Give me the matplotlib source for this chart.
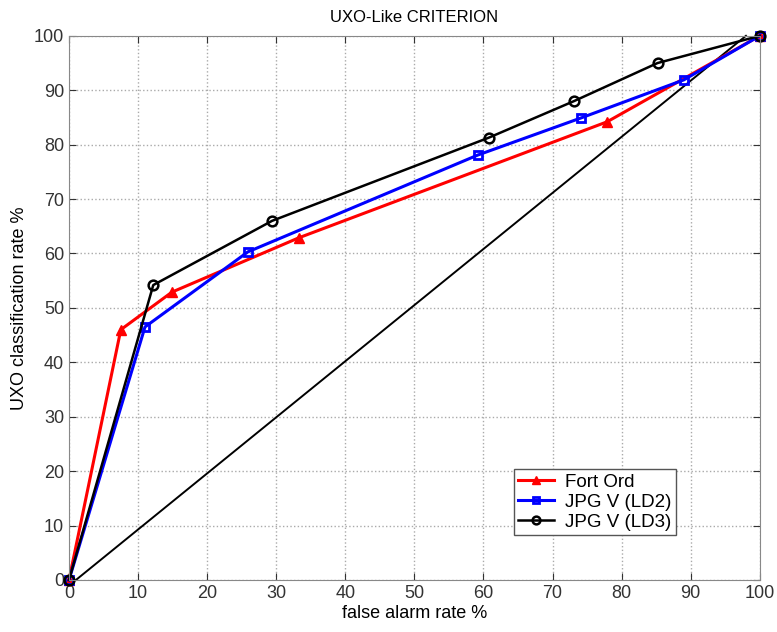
import matplotlib
matplotlib.use('Agg')
import matplotlib.pyplot as plt

plt.rcParams['font.family'] = ['Liberation Sans', 'DejaVu Sans']

# data
fort_x = [0, 7.5, 14.9, 33.3, 77.9, 100]
fort_y = [0, 46.0, 52.9, 62.9, 84.2, 100]
ld2_x = [0, 11.0, 25.9, 59.2, 74.1, 89.0, 100]
ld2_y = [0, 46.5, 60.3, 78.1, 84.9, 91.9, 100]
ld3_x = [0, 12.2, 29.4, 60.8, 73.1, 85.2, 100]
ld3_y = [0, 54.2, 66.0, 81.3, 88.0, 95.0, 100]
diag_x = [1, 98]
diag_y = [0, 100]

fig = plt.figure(figsize=(7.77, 6.32), dpi=100)
ax = fig.add_axes([0.0888, 0.0823, 0.889, 0.861])

ax.plot(diag_x, diag_y, color='black', lw=1.4, clip_on=False)
ax.plot(fort_x, fort_y, color='#ff0000', lw=2.2, marker='^', ms=7, label='Fort Ord', clip_on=False)
ax.plot(ld2_x, ld2_y, color='#0000ff', lw=2.2, marker='s', ms=6, mfc='none', mew=2, label='JPG V (LD2)', clip_on=False)
ax.plot(ld3_x, ld3_y, color='black', lw=1.8, marker='o', ms=7, mfc='none', mew=1.8, label='JPG V (LD3)', clip_on=False)

ax.set_xlim(0, 100)
ax.set_ylim(0, 100)
ax.set_xticks(range(0, 101, 10))
ax.set_yticks(range(0, 101, 10))
ax.tick_params(direction='in', labelsize=13, length=5, top=True, right=True, colors='#333333')
ax.grid(True, linestyle=':', color='#aaaaaa', lw=1)
for s in ax.spines.values():
    s.set_color('#888888')

ax.set_title('UXO-Like CRITERION', fontsize=12, pad=10)
ax.set_xlabel('false alarm rate %', fontsize=13, labelpad=2)
ax.set_ylabel('UXO classification rate %', fontsize=13, labelpad=4)

leg = ax.legend(loc='lower left', bbox_to_anchor=(0.63, 0.065), fontsize=13.5,
                fancybox=False, framealpha=1, edgecolor='#555555', handlelength=1.9,
                handletextpad=0.6, borderpad=0.25, labelspacing=0.15, markerscale=0.8)

fig.savefig('out.png', dpi=100)
